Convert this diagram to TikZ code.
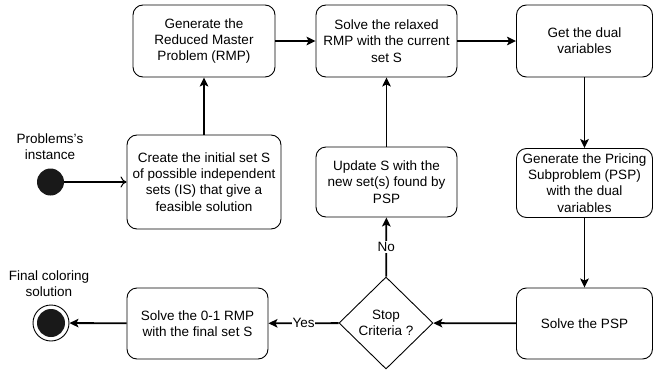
\documentclass[tikz,border=0pt]{standalone}
\usepackage{fontspec}
\setmainfont{Liberation Sans}
\usetikzlibrary{shapes.geometric,arrows.meta}
\begin{document}
\begin{tikzpicture}[x=1pt,y=-1pt,
  box/.style={draw,line width=0.9pt,rounded corners=10pt,align=center,inner sep=0pt,
    font=\fontsize{13.5}{16.3}\selectfont},
  conn/.style={line width=1.8pt,-{Stealth[length=9pt,width=8.5pt,inset=2pt]}},
  lbl/.style={align=center,font=\fontsize{13.5}{16.3}\selectfont}]
\useasboundingbox (0,0) rectangle (654,375);
\node[box,minimum width=142pt,minimum height=72pt] (b1) at (204,41) {Generate the\\Reduced Master\\Problem (RMP)};
\node[box,minimum width=141pt,minimum height=72pt] (b2) at (386.5,41) {Solve the relaxed\\RMP with the current\\set S};
\node[box,minimum width=136pt,minimum height=72pt] (b3) at (584.5,41) {Get the dual\\variables};
\node[box,minimum width=136pt,minimum height=69pt] (b4) at (584.5,183) {Generate the Pricing\\Subproblem (PSP)\\with the dual\\variables};
\node[box,minimum width=136pt,minimum height=71pt] (b5) at (584.5,323.5) {Solve the PSP};
\node[box,minimum width=141pt,minimum height=70pt] (upd) at (386.5,182) {Update S with the\\new set(s) found by\\PSP};
\node[box,minimum width=154pt,minimum height=94pt] (cr) at (204,182) {Create the initial set S\\of possible independent\\sets (IS) that give a\\feasible solution};
\node[box,minimum width=141pt,minimum height=71pt] (s01) at (197.5,323.5) {Solve the 0-1 RMP\\with the final set S};
\node[draw,diamond,aspect=1,line width=0.9pt,minimum width=94pt,minimum height=92pt,inner sep=0pt,align=center,
  font=\fontsize{13.5}{16.3}\selectfont] (dia) at (386,323) {Stop\\Criteria ?};
\node[circle,fill=black!90,minimum size=27pt,inner sep=0pt] (init) at (50.5,182) {};
\node[circle,draw,line width=0.9pt,minimum size=36pt,inner sep=0pt] (fin) at (51,323) {};
\node[circle,fill=black!90,minimum size=28pt,inner sep=0pt] (finin) at (51,323) {};
\node[lbl] (l1) at (50,146.5) {Problems{\char"27}s\\instance};
\node[lbl] (l2) at (49,283.5) {Final coloring\\solution};
\draw[line width=1.8pt,-{To[length=6pt,width=11pt,line width=1pt]}] (init) -- (cr);
\draw[conn] (cr) -- (b1);
\draw[conn] (b1) -- (b2);
\draw[conn] (b2) -- (b3);
\draw[conn] (b3) -- (b4);
\draw[conn] (b4) -- (b5);
\draw[conn] (b5) -- (dia);
\draw[conn] (dia) -- node[fill=white,inner sep=1pt,font=\fontsize{13.5}{16}\selectfont] (no) {No} (upd);
\draw[conn] (upd) -- (b2);
\draw[conn] (dia) -- node[fill=white,inner sep=0.5pt,font=\fontsize{13.5}{16}\selectfont] (yes) {Yes} (s01);
\draw[conn] (s01) -- (fin);
\end{tikzpicture}
\end{document}
